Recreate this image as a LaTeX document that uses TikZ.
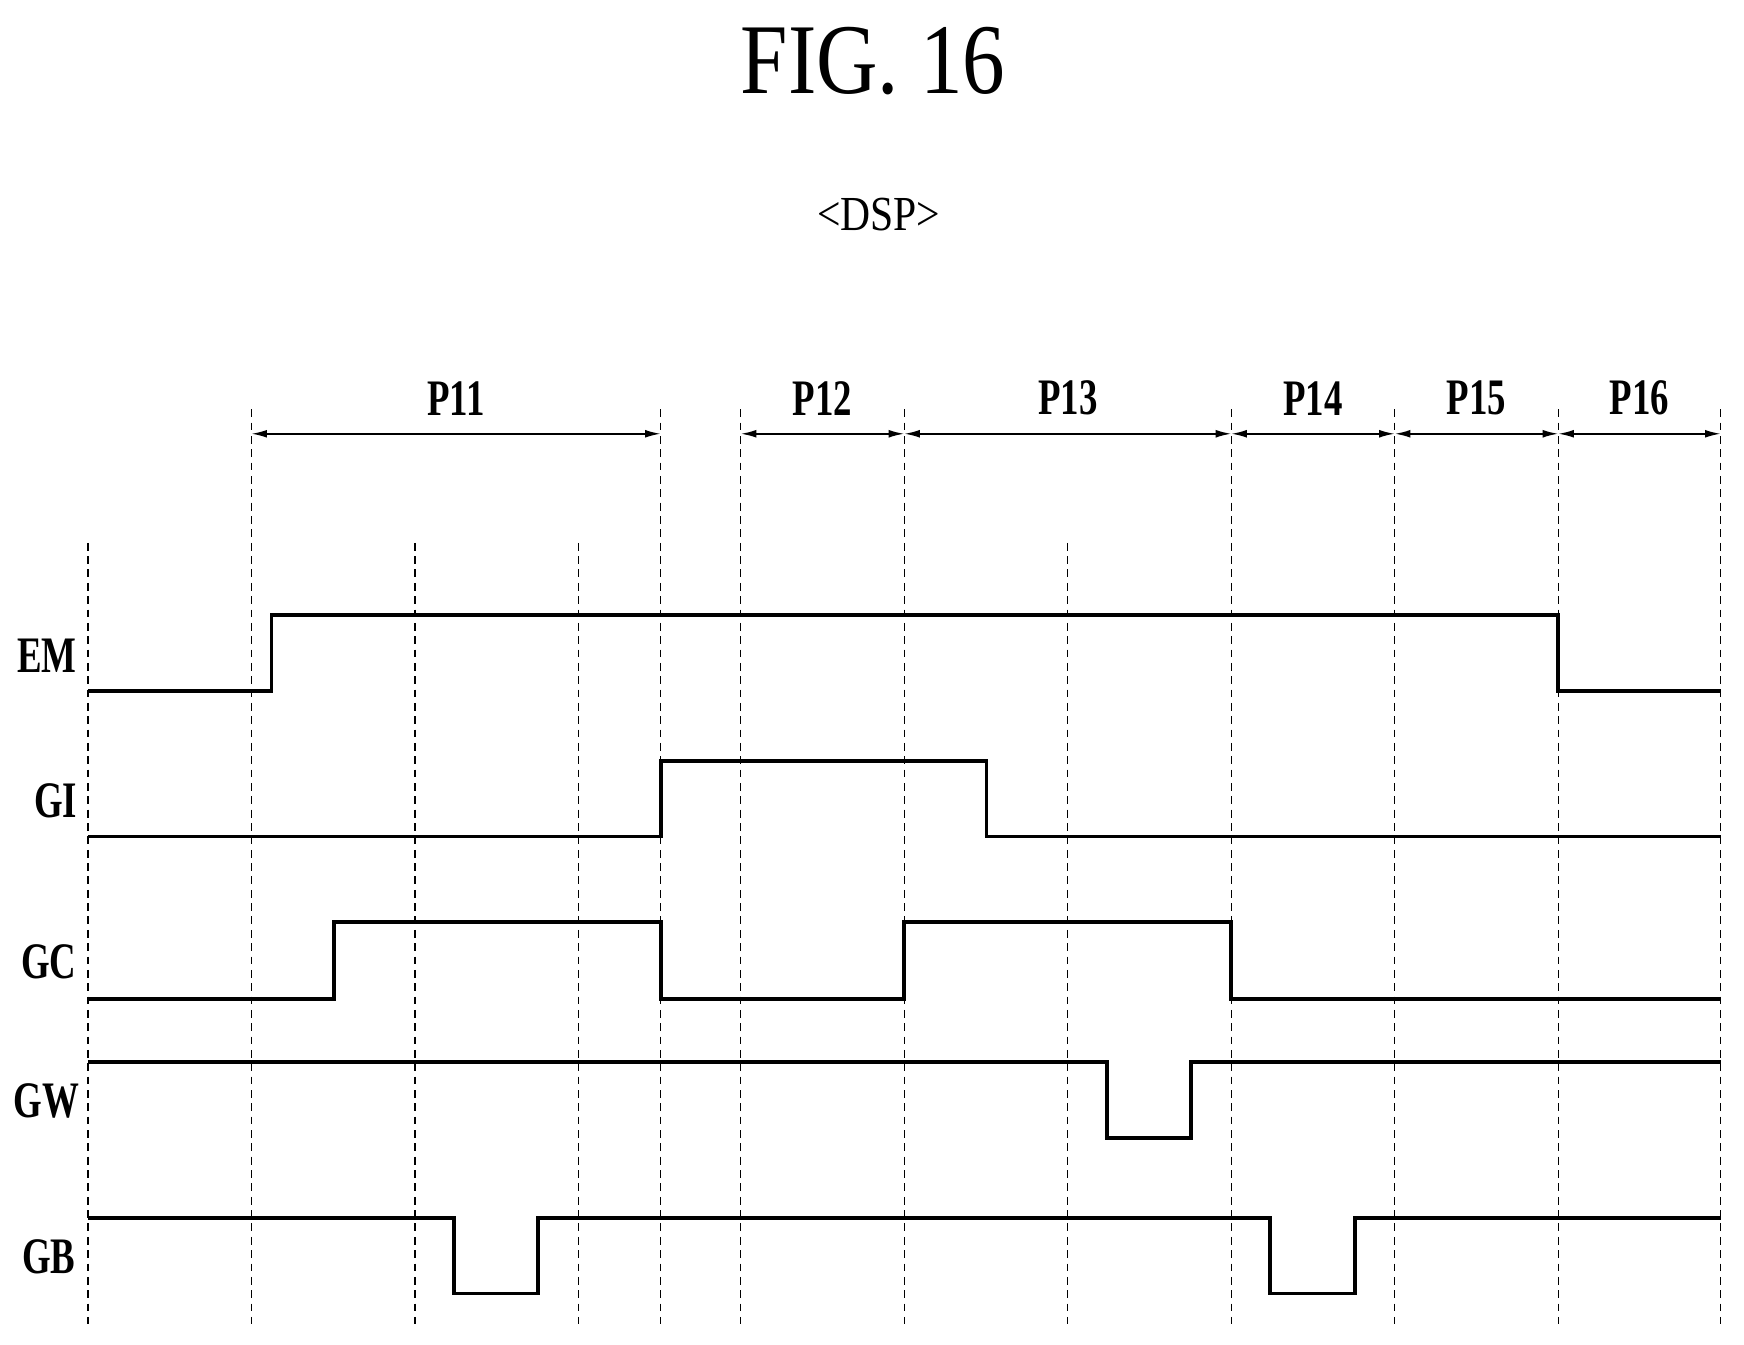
\documentclass[tikz,border=0pt]{standalone}
\usepackage{fontspec}
\setmainfont{Liberation Serif}
\usetikzlibrary{arrows.meta}
\begin{document}
\begin{tikzpicture}[x=1pt,y=-1pt,
 sig/.style={line width=3.4pt,line join=miter},
 grid/.style={line width=1.2pt,dash pattern=on 7pt off 5pt},
 per/.style={line width=1.5pt,{Latex[length=14pt,width=7pt]}-{Latex[length=14pt,width=7pt]}},
 lab/.style={font=\fontsize{46}{46}\selectfont\bfseries},
 sl/.style={font=\fontsize{46}{46}\selectfont\bfseries}]
\useasboundingbox (0,0) rectangle (1568,1209);
\node[font=\fontsize{90}{90}\selectfont] (title) at (785,55) {\scalebox{0.85}[1]{FIG. 16}};
\node[font=\fontsize{44}{44}\selectfont] (dsp) at (790,193) {\scalebox{0.85}[1]{<DSP>}};
\foreach \x in {226,594,666,813,1107,1254,1401,1547} \draw[grid] (\x,368) -- (\x,1190);
\foreach \x in {79,373,520,960} \draw[grid] (\x,488) -- (\x,1190);
\foreach \a/\b/\n in {226/594/P11,666/813/P12,813/1107/P13,1107/1254/P14,1254/1401/P15,1401/1547/P16}{
 \coordinate (a\n) at (\a,390); \coordinate (b\n) at (\b,390);
 \draw[per] (a\n) -- (b\n);
 \node[sl] (l\n) at ({(\a+\b)/2},358) {\scalebox{0.72}[1]{\n}};}
\node[lab] (em) at (42,590) {\scalebox{0.72}[1]{EM}};
\node[lab] (gi) at (50,720) {\scalebox{0.72}[1]{GI}};
\node[lab] (gc) at (44,865) {\scalebox{0.72}[1]{GC}};
\node[lab] (gw) at (42,990) {\scalebox{0.72}[1]{GW}};
\node[lab] (gb) at (44,1130) {\scalebox{0.72}[1]{GB}};
\draw[sig] (79,621) -- (244,621) -- (244,553) -- (1401,553) -- (1401,621) -- (1547,621);
\draw[sig] (79,752) -- (594,752) -- (594,684) -- (887,684) -- (887,752) -- (1547,752);
\draw[sig] (79,898) -- (300,898) -- (300,829) -- (594,829) -- (594,898) -- (813,898) -- (813,829) -- (1107,829) -- (1107,898) -- (1547,898);
\draw[sig] (79,955) -- (995,955) -- (995,1023) -- (1071,1023) -- (1071,955) -- (1547,955);
\draw[sig] (79,1095) -- (408,1095) -- (408,1163) -- (484,1163) -- (484,1095) -- (1142,1095) -- (1142,1163) -- (1218,1163) -- (1218,1095) -- (1547,1095);
\end{tikzpicture}
\end{document}
